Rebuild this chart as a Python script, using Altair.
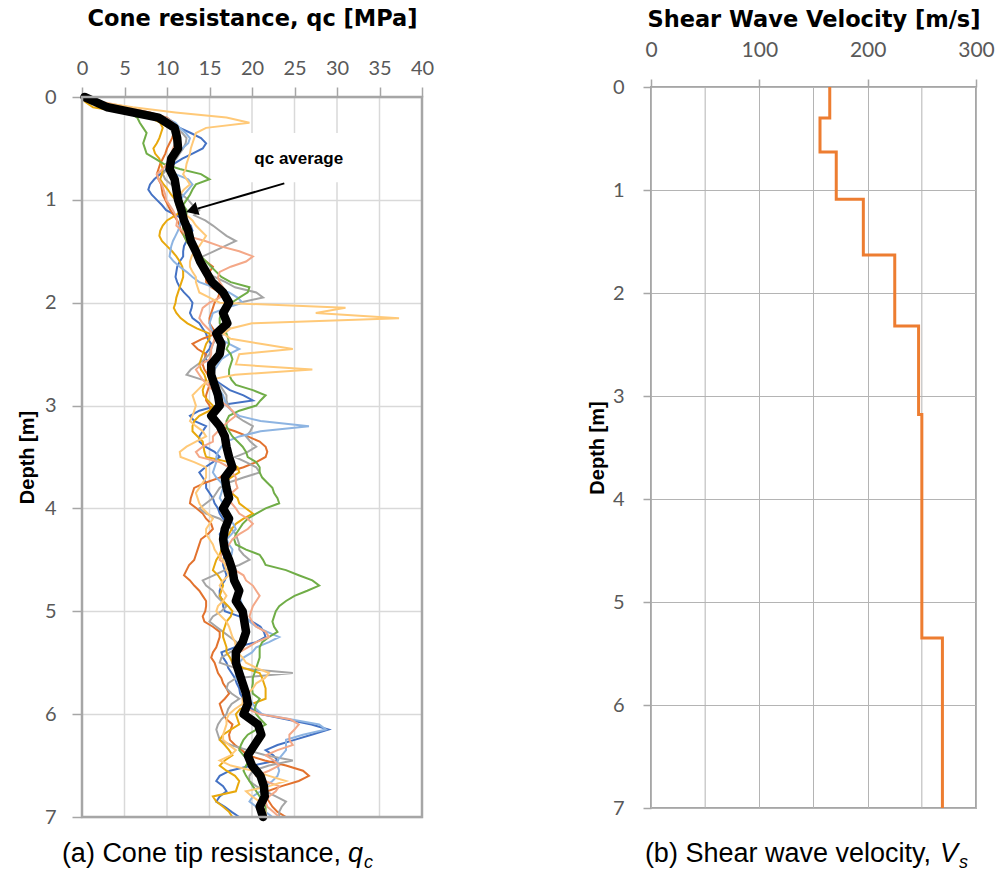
import altair as alt
import pandas as pd

# ---------------- data ----------------
# depth grid of the individual CPT traces (m), 0.05 m step
DEPTH = [round(i * 0.05, 2) for i in range(141)]

QC_BLUE = [
    0.3, 1.5, 4.0, 7.0, 9.0, 10.5, 11.5, 12.8, 14.0, 14.6,
    14.2, 13.0, 11.8, 10.8, 10.0, 9.2, 8.5, 8.0, 7.8, 8.2,
    8.8, 9.4, 9.9, 11.1, 12.0, 12.8, 13.0, 12.5, 12.3, 12.0,
    11.9, 11.9, 11.5, 11.2, 11.1, 11.0, 11.2, 11.5, 12.0, 12.6,
    13.0, 12.9, 12.7, 13.0, 13.8, 14.2, 14.6, 14.8, 15.2, 15.0,
    14.5, 14.6, 15.0, 14.8, 15.0, 15.6, 16.5, 17.4, 19.0, 20.1,
    16.0, 13.8, 12.7, 13.2, 14.6, 14.2, 13.8, 13.8, 14.5, 15.6,
    16.2, 15.4, 14.5, 13.8, 14.2, 14.6, 14.6, 15.0, 15.4, 15.6,
    16.0, 16.2, 16.6, 17.0, 16.6, 16.2, 16.4, 16.8, 17.0, 16.8,
    16.6, 16.6, 16.8, 17.0, 16.8, 16.4, 16.2, 16.2, 16.6, 16.6,
    16.8, 18.5, 20.0, 21.0, 21.4, 21.6, 20.5, 18.0, 16.4, 16.6,
    17.0, 17.2, 17.6, 18.0, 18.2, 18.5, 18.6, 19.0, 19.3, 20.0,
    21.0, 24.0, 27.0, 29.0, 27.0, 25.0, 23.0, 21.6, 22.5, 23.0,
    20.0, 17.4, 16.2, 15.8, 16.6, 17.0, 16.2, 15.8, 16.8, 17.6,
    18.5,
]
QC_ORANGE = [
    0.2, 2.0, 5.0, 8.0, 10.0, 10.8, 11.1, 10.8, 10.6, 10.3,
    10.0, 9.8, 9.5, 9.2, 9.0, 8.8, 9.0, 9.3, 9.4, 9.5,
    9.8, 10.1, 10.4, 10.8, 11.2, 11.5, 11.6, 12.0, 12.3, 12.8,
    13.4, 13.8, 14.6, 15.4, 15.0, 14.6, 14.6, 15.2, 16.2, 16.0,
    15.6, 15.4, 15.2, 15.0, 15.0, 15.4, 15.8, 14.2, 13.0, 13.6,
    14.6, 14.4, 14.2, 14.4, 14.8, 15.0, 15.0, 14.8, 14.6, 14.6,
    15.0, 15.2, 15.4, 15.8, 16.2, 18.0, 19.5, 20.9, 21.6, 21.8,
    21.6, 20.5, 19.0, 17.0, 16.2, 14.5, 13.2, 13.0, 12.8, 12.7,
    13.5, 14.2, 14.6, 15.2, 15.4, 14.8, 14.0, 13.8, 13.6, 13.4,
    13.2, 12.6, 12.3, 12.0, 12.7, 13.2, 13.8, 14.2, 14.6, 14.6,
    14.5, 14.2, 14.4, 15.4, 16.2, 16.2, 16.0, 15.8, 15.4, 15.2,
    15.6, 15.8, 16.0, 16.4, 16.6, 17.0, 17.3, 16.8, 16.2, 16.4,
    16.6, 17.0, 17.7, 17.5, 17.3, 17.4, 18.0, 18.8, 19.5, 21.5,
    24.0, 26.0, 26.7, 25.5, 23.5, 21.8, 21.6, 22.0, 22.4, 23.0,
    24.0,
]
QC_GRAY = [
    0.2, 1.8, 4.5, 7.5, 9.5, 10.6, 11.1, 11.8, 12.3, 12.2,
    11.9, 11.5, 11.1, 10.6, 10.0, 9.5, 9.8, 10.5, 11.1, 11.8,
    12.5, 13.0, 13.8, 13.2, 14.5, 15.4, 16.2, 17.0, 18.1, 16.8,
    15.5, 14.2, 13.8, 14.0, 14.6, 15.6, 16.9, 18.0, 20.5, 21.3,
    18.5, 17.0, 16.2, 16.6, 17.0, 17.4, 16.8, 15.8, 15.4, 15.2,
    15.0, 14.4, 13.6, 12.8, 12.3, 14.2, 16.2, 16.6, 17.0, 17.0,
    17.2, 17.6, 18.1, 19.0, 20.1, 19.8, 19.3, 19.8, 20.5, 19.5,
    18.0, 19.3, 20.5, 20.9, 19.0, 17.2, 16.2, 15.8, 15.4, 14.6,
    13.8, 14.6, 16.2, 17.0, 17.6, 18.1, 18.3, 18.5, 18.5, 19.0,
    19.7, 18.5, 16.8, 15.5, 14.2, 14.6, 15.4, 15.8, 16.4, 17.0,
    16.4, 15.4, 15.0, 15.8, 16.6, 17.4, 18.2, 18.5, 17.4, 16.4,
    16.2, 18.0, 24.8, 18.1, 17.2, 17.0, 17.6, 18.5, 17.6, 17.2,
    17.0, 16.4, 16.0, 15.8, 16.0, 16.2, 17.5, 19.5, 21.6, 24.8,
    22.0, 20.1, 19.7, 19.7, 20.5, 21.6, 22.8, 24.0, 23.5, 23.2,
    23.2,
]
QC_GOLD = [
    0.0, 0.4, 1.3, 5.0, 8.0, 9.2, 9.5, 9.3, 9.1, 8.8,
    8.4, 8.6, 9.1, 9.3, 9.5, 9.4, 9.2, 9.6, 10.1, 10.5,
    11.0, 11.5, 11.9, 11.0, 10.0, 9.5, 9.2, 9.1, 9.4, 10.0,
    10.6, 11.1, 11.5, 11.8, 11.9, 11.9, 11.7, 11.5, 11.3, 11.1,
    11.0, 10.8, 11.1, 11.6, 12.4, 13.5, 15.0, 15.0, 14.6, 14.4,
    14.2, 14.0, 13.8, 14.0, 14.4, 14.6, 14.4, 14.2, 14.3, 14.8,
    15.4, 15.0, 13.8, 13.2, 13.0, 13.0, 13.6, 14.2, 14.3, 14.4,
    14.6, 17.3, 18.3, 18.5, 17.5, 16.6, 17.0, 17.6, 18.3, 18.5,
    19.3, 20.1, 19.0, 18.1, 17.6, 17.3, 17.0, 16.6, 16.4, 16.2,
    15.8, 15.6, 15.4, 16.0, 16.4, 16.6, 16.4, 16.2, 16.6, 17.2,
    17.7, 17.5, 17.0, 16.8, 16.6, 16.6, 16.8, 17.0, 17.0, 17.4,
    17.7, 19.0, 20.9, 21.2, 21.4, 21.6, 21.6, 21.6, 20.0, 18.6,
    18.1, 18.3, 18.5, 17.5, 16.6, 16.2, 16.8, 17.3, 17.7, 16.8,
    16.2, 17.0, 18.0, 18.5, 18.3, 18.1, 15.4, 15.8, 16.6, 17.3,
    17.7,
]
QC_LIGHTBLUE = [
    0.2, 1.5, 4.0, 7.5, 9.8, 11.0, 11.5, 12.2, 12.7, 12.5,
    11.8, 11.2, 10.4, 9.9, 10.3, 11.0, 12.5, 13.0, 12.5, 12.0,
    11.6, 11.5, 11.9, 11.7, 11.6, 11.5, 11.3, 11.0, 10.7, 10.5,
    10.4, 10.3, 10.8, 11.5, 12.3, 13.0, 13.8, 15.5, 17.3, 18.3,
    18.9, 17.0, 15.4, 15.2, 15.0, 15.2, 15.4, 16.2, 17.3, 18.5,
    17.3, 16.4, 16.0, 15.6, 15.4, 15.6, 16.0, 16.2, 16.6, 16.8,
    17.0, 17.6, 18.5, 21.0, 26.7, 21.0, 18.5, 17.0, 16.4, 16.0,
    15.8, 15.8, 15.6, 15.4, 15.8, 16.4, 16.6, 16.4, 16.2, 16.6,
    17.0, 17.0, 17.3, 17.8, 18.1, 17.6, 17.0, 17.3, 17.7, 17.6,
    17.3, 17.3, 17.5, 17.7, 17.8, 18.0, 18.3, 18.5, 18.7, 18.9,
    19.0, 19.3, 19.7, 20.5, 21.8, 23.2, 22.0, 20.5, 20.0, 19.0,
    18.5, 18.3, 18.1, 18.1, 18.5, 18.9, 19.3, 19.7, 20.1, 20.5,
    21.2, 24.5, 27.9, 28.7, 26.0, 24.0, 24.0, 24.0, 23.5, 23.0,
    23.0, 23.2, 23.0, 22.4, 21.6, 21.0, 20.1, 19.7, 20.5, 21.6,
    22.4,
]
QC_GREEN = [
    0.3, 2.0, 4.0, 5.5, 6.5, 6.8, 7.2, 7.6, 7.4, 7.2,
    7.4, 7.6, 8.6, 9.6, 11.5, 14.0, 15.0, 13.4, 13.0, 12.7,
    12.3, 11.9, 12.3, 12.3, 12.0, 11.9, 11.9, 12.0, 12.3, 12.7,
    13.4, 14.0, 14.6, 15.2, 15.8, 16.4, 17.5, 19.7, 19.5, 18.5,
    17.6, 16.8, 16.4, 16.2, 16.2, 16.6, 17.0, 17.2, 17.3, 17.0,
    17.5, 17.7, 17.5, 17.3, 17.3, 17.6, 18.1, 20.1, 21.6, 21.0,
    20.5, 18.5, 17.3, 17.0, 17.0, 17.3, 17.7, 18.3, 18.9, 19.3,
    19.5, 20.5, 20.9, 20.9, 21.2, 21.8, 22.4, 22.6, 23.0, 23.2,
    21.6, 20.5, 19.5, 18.9, 18.5, 18.1, 17.9, 18.1, 19.3, 20.9,
    21.3, 21.6, 24.0, 25.5, 27.1, 27.9, 26.5, 25.0, 24.0, 23.2,
    22.8, 22.6, 22.4, 22.6, 23.0, 22.0, 21.2, 20.9, 20.9, 20.9,
    20.7, 20.5, 20.3, 20.1, 20.1, 20.0, 20.1, 20.9, 20.5, 20.3,
    20.5, 21.0, 21.6, 20.5, 19.5, 19.0, 18.7, 18.5, 19.0, 19.7,
    19.3, 19.0, 19.3, 19.7, 20.1, 20.5, 20.9, 21.2, 21.6, 21.6,
    20.9,
]
QC_SALMON = [
    0.3, 2.5, 5.5, 7.6, 9.8, 10.7, 11.2, 11.5, 11.4, 11.0,
    10.7, 10.5, 10.3, 10.0, 9.5, 8.8, 9.0, 9.4, 9.6, 9.8,
    9.9, 10.3, 10.7, 11.0, 11.2, 11.1, 11.8, 12.3, 14.5, 16.2,
    18.5, 20.1, 19.3, 17.5, 16.2, 16.0, 16.2, 16.6, 17.0, 16.2,
    15.0, 14.2, 14.0, 13.8, 14.2, 14.8, 15.4, 15.6, 15.4, 15.2,
    15.2, 15.0, 14.0, 13.4, 13.8, 14.2, 14.8, 15.4, 15.8, 16.2,
    17.0, 17.7, 18.1, 17.3, 16.6, 16.0, 15.4, 15.4, 14.2, 13.4,
    13.8, 16.2, 17.3, 17.7, 18.1, 18.1, 18.3, 17.6, 17.0, 17.6,
    18.1, 18.5, 19.5, 20.1, 19.5, 18.5, 17.7, 17.3, 16.8, 16.4,
    16.2, 17.0, 18.0, 19.0, 19.3, 20.1, 20.5, 20.9, 20.5, 20.1,
    19.9, 19.7, 20.0, 20.5, 21.6, 22.0, 20.5, 19.5, 18.5, 18.1,
    17.7, 17.9, 18.3, 18.5, 18.9, 19.3, 19.0, 18.9, 19.0, 19.5,
    20.9, 24.5, 25.5, 25.0, 24.4, 24.4, 24.8, 23.0, 21.6, 22.6,
    23.2, 22.0, 20.5, 21.5, 23.2, 22.8, 22.0, 21.6, 21.8, 22.5,
    23.2,
]
QC_LIGHTORANGE = [
    0.2, 2.0, 6.0, 11.0, 17.0, 19.7, 14.6, 13.4, 13.2, 13.0,
    12.8, 12.7, 12.5, 12.3, 12.2, 11.9, 12.3, 12.7, 12.0, 11.5,
    11.3, 11.1, 11.5, 12.3, 13.0, 13.4, 14.0, 14.6, 14.2, 13.8,
    13.2, 12.9, 12.7, 12.7, 13.0, 13.4, 13.4, 13.6, 13.8, 15.0,
    16.2, 31.0, 27.5, 37.3, 20.0, 17.5, 16.6, 17.5, 21.0, 24.8,
    18.5, 18.3, 18.1, 27.1, 18.0, 15.0, 14.2, 13.6, 13.0, 13.2,
    13.4, 13.2, 13.0, 12.7, 13.4, 14.2, 14.6, 13.4, 12.3, 11.5,
    11.6, 13.2, 14.6, 14.6, 14.6, 14.2, 13.8, 13.4, 13.6, 13.8,
    14.2, 14.8, 15.4, 15.0, 14.6, 14.6, 15.0, 15.4, 15.6, 16.0,
    16.6, 16.8, 17.0, 17.3, 16.6, 16.2, 16.6, 17.0, 16.6, 16.0,
    15.8, 16.4, 17.0, 17.3, 17.5, 17.7, 18.0, 18.1, 18.3, 18.9,
    19.3, 20.5, 22.0, 21.5, 20.5, 20.1, 19.5, 18.9, 18.9, 18.0,
    17.3, 17.0, 17.0, 16.8, 16.6, 16.6, 17.3, 18.1, 17.5, 16.2,
    17.5, 20.1, 22.0, 24.0, 22.0, 19.3, 20.0, 20.9, 21.2, 21.6,
    21.6,
]

TRACE_NAMES = ["CPT1", "CPT2", "CPT3", "CPT4", "CPT5", "CPT6", "CPT7", "CPT8"]
TRACE_COLORS = ["#4472C4", "#E2722E", "#A5A5A5", "#E8A80C",
                "#8DB4E2", "#70AD47", "#F4A888", "#FFC978"]
TRACES = [QC_BLUE, QC_ORANGE, QC_GRAY, QC_GOLD,
          QC_LIGHTBLUE, QC_GREEN, QC_SALMON, QC_LIGHTORANGE]

# average qc (black) at 0.1 m step
AVG_DEPTH = [round(i * 0.1, 1) for i in range(71)]
QC_AVG = [
    0.3, 3.0, 9.0, 10.9, 11.2, 11.3, 10.5, 10.3, 10.9, 11.1,
    11.3, 11.7, 12.0, 12.5, 12.8, 13.4, 13.9, 14.6, 15.3, 16.6,
    17.3, 16.6, 17.1, 15.8, 16.4, 16.2, 15.2, 15.2, 15.6, 16.0,
    16.2, 15.2, 16.2, 16.8, 17.0, 17.3, 17.7, 16.8, 17.0, 17.3,
    16.6, 17.3, 16.8, 16.6, 16.8, 17.3, 17.7, 17.9, 18.5, 18.1,
    18.9, 19.1, 19.3, 18.9, 18.1, 18.1, 18.5, 18.9, 19.3, 19.5,
    19.0, 20.7, 21.1, 20.3, 19.5, 20.0, 21.0, 21.4, 21.5, 20.9,
    21.3,
]

# shear-wave velocity layers
VS_TOP = [0.0, 0.30, 0.63, 1.09, 1.63, 2.32, 3.18, 5.35]
VS_BOT = [0.30, 0.63, 1.09, 1.63, 2.32, 3.18, 5.35, 7.0]
VS = [165, 156, 171, 196, 225, 247, 250, 269]

QC_TICKS = [0, 5, 10, 15, 20, 25, 30, 35, 40]
QC_INNER_GRID = [5, 10, 15, 20, 25, 30, 35]
VS_TICKS = [0, 100, 200, 300]
VS_MINOR_GRID = [50, 150, 250]
DEPTH_TICKS = [0, 1, 2, 3, 4, 5, 6, 7]

# annotation
ANNOT_TEXT = "qc average"
ANNOT_BOX = {"x": 18.0, "x2": 33.0, "y": 0.35, "y2": 0.83}
ANNOT_LABEL_POS = {"x": 25.5, "y": 0.60}
ARROW = {"x": 23.8, "y": 0.84, "x2": 13.6, "y2": 1.085}
ARROW_HEAD = {"x": 13.15, "y": 1.095}

# ---------------- frames ----------------
rows = []
for name, vals in zip(TRACE_NAMES, TRACES):
    for d, q in zip(DEPTH, vals):
        rows.append({"trace": name, "depth": d, "qc": q})
df_traces = pd.DataFrame(rows)
df_avg = pd.DataFrame({"depth": AVG_DEPTH, "qc": QC_AVG})

vs_rows = []
k = 0
for top, bot, v in zip(VS_TOP, VS_BOT, VS):
    vs_rows.append({"i": k, "depth": top, "vs": v}); k += 1
    vs_rows.append({"i": k, "depth": bot, "vs": v}); k += 1
df_vs = pd.DataFrame(vs_rows)

TITLE_X_FONT = "DejaVu Sans"
TITLE_Y_FONT = "Liberation Sans"
FONT_L = "Lato"
CAP_FONT = "Liberation Sans"
LABEL_COLOR = "#595959"
BORDER = "#A6A6A6"

# ---------------- left panel ----------------
# the left plot sits 10 px lower than the right one: extra 10 px on top of its y range
xq = alt.X("qc:Q", scale=alt.Scale(domain=[0, 40], nice=False, zero=False),
           axis=alt.Axis(orient="top", values=QC_TICKS, title="Cone resistance, qc [MPa]",
                         grid=False, domain=False, offset=-10, labelFlush=False,
                         tickColor=BORDER, tickSize=10, tickWidth=1.5,
                         labelFont=FONT_L, labelFontSize=20, labelColor=LABEL_COLOR,
                         labelPadding=9, titleFont=TITLE_X_FONT, titleFontSize=22.5,
                         titleFontWeight="bold", titleColor="black", titlePadding=28))
yd = alt.Y("depth:Q", scale=alt.Scale(domain=[0, 7], range=[10, 730], nice=False, zero=False),
           axis=alt.Axis(values=DEPTH_TICKS, format="d", title="Depth [m]", grid=True,
                         gridColor="#D9D9D9", gridWidth=1.5, domain=False, labelFlush=False,
                         tickColor=BORDER, tickSize=10, tickWidth=1.5,
                         labelFont=FONT_L, labelFontSize=20, labelColor=LABEL_COLOR,
                         labelPadding=16, titleFont=TITLE_Y_FONT, titleFontSize=20,
                         titleFontWeight="bold", titleColor="black", titlePadding=7))

base_l = alt.Chart(df_traces)
vgrid = alt.Chart(pd.DataFrame({"g": QC_INNER_GRID, "d0": 0.0, "d1": 7.0})).mark_rule(
    color="#D9D9D9", strokeWidth=1.5).encode(x=alt.X("g:Q"), y="d0:Q", y2="d1:Q")
traces = base_l.mark_line(strokeWidth=2, interpolate="linear").encode(
    x="qc:Q", y="depth:Q",
    color=alt.Color("trace:N", scale=alt.Scale(domain=TRACE_NAMES, range=TRACE_COLORS), legend=None),
    order=alt.Order("depth:Q"),
)
avg = alt.Chart(df_avg).mark_line(color="black", strokeWidth=8.5, strokeCap="round",
                                  strokeJoin="round").encode(
    x="qc:Q", y="depth:Q", order=alt.Order("depth:Q"))

df_box = pd.DataFrame([ANNOT_BOX])
box = alt.Chart(df_box).mark_rect(color="white").encode(x="x:Q", x2="x2:Q", y="y:Q", y2="y2:Q")
df_lab = pd.DataFrame([dict(ANNOT_LABEL_POS, t=ANNOT_TEXT)])
lab = alt.Chart(df_lab).mark_text(font="Liberation Sans", fontWeight="bold", fontSize=17,
                                  color="black").encode(x="x:Q", y="y:Q", text="t:N")
df_arrow = pd.DataFrame([ARROW])
arrow = alt.Chart(df_arrow).mark_rule(color="black", strokeWidth=2).encode(
    x="x:Q", y="y:Q", x2="x2:Q", y2="y2:Q")
df_head = pd.DataFrame([ARROW_HEAD])
head = alt.Chart(df_head).mark_point(shape="triangle", filled=True, color="black",
                                     size=190, angle=253.5, opacity=1).encode(x="x:Q", y="y:Q")
frame_l = alt.Chart(pd.DataFrame([{"x": 0, "x2": 40, "y": 0, "y2": 7}])).mark_rect(
    fillOpacity=0, stroke=BORDER, strokeWidth=2.5).encode(x="x:Q", x2="x2:Q", y="y:Q", y2="y2:Q")

cap_a_main = alt.Chart(pd.DataFrame([{"t": "(a) Cone tip resistance,"}])).mark_text(
    font=CAP_FONT, fontSize=27, align="right", baseline="alphabetic", color="black").encode(
    x=alt.value(259), y=alt.value(775), text="t:N")
cap_a_q = alt.Chart(pd.DataFrame([{"t": "q"}])).mark_text(
    font=CAP_FONT, fontSize=27, fontStyle="italic", align="left", baseline="alphabetic",
    color="black").encode(x=alt.value(266), y=alt.value(775), text="t:N")
cap_a_c = alt.Chart(pd.DataFrame([{"t": "c"}])).mark_text(
    font=CAP_FONT, fontSize=18, fontStyle="italic", align="left", baseline="alphabetic",
    color="black").encode(x=alt.value(282), y=alt.value(781), text="t:N")

left = alt.layer(vgrid, box, traces, avg, arrow, head, lab, frame_l,
                 cap_a_main, cap_a_q, cap_a_c).encode(x=xq, y=yd).properties(
    width=340, height=730,
    view=alt.ViewBackground(stroke=None))

# ---------------- right panel ----------------
xv = alt.X("vs:Q", scale=alt.Scale(domain=[0, 300], nice=False, zero=False),
           axis=alt.Axis(orient="top", values=VS_TICKS, title="Shear Wave Velocity  [m/s]",
                         grid=True, gridColor="#B4B4B4", gridWidth=1, labelFlush=False,
                         domain=False, tickColor=BORDER, tickSize=8, tickWidth=1.5,
                         labelFont=FONT_L, labelFontSize=21, labelColor=LABEL_COLOR,
                         labelPadding=19, titleFont=TITLE_X_FONT, titleFontSize=22.5,
                         titleFontWeight="bold", titleColor="black", titlePadding=8))
ydv = alt.Y("depth:Q", scale=alt.Scale(domain=[0, 7], reverse=True, nice=False, zero=False),
            axis=alt.Axis(values=DEPTH_TICKS, format="d", title="Depth [m]", grid=True,
                          gridColor="#B4B4B4", gridWidth=1, domain=False, labelFlush=False,
                          tickColor=BORDER, tickSize=8, tickWidth=1.5,
                          labelFont=FONT_L, labelFontSize=20, labelColor=LABEL_COLOR,
                          labelPadding=19, titleFont=TITLE_Y_FONT, titleFontSize=20,
                          titleFontWeight="bold", titleColor="black", titlePadding=5))

vs_line = alt.Chart(df_vs).mark_line(color="#ED7D31", strokeWidth=3).encode(
    x=xv, y=ydv, order=alt.Order("i:Q"))
minor = alt.Chart(pd.DataFrame({"g": VS_MINOR_GRID})).mark_rule(
    color="#B4B4B4", strokeWidth=1).encode(x=alt.X("g:Q", scale=alt.Scale(domain=[0, 300])))

cap_b_main = alt.Chart(pd.DataFrame([{"t": "(b) Shear wave velocity,"}])).mark_text(
    font=CAP_FONT, fontSize=27, align="right", baseline="alphabetic", color="black").encode(
    x=alt.value(280), y=alt.value(775), text="t:N")
cap_b_v = alt.Chart(pd.DataFrame([{"t": "V"}])).mark_text(
    font=CAP_FONT, fontSize=27, fontStyle="italic", align="left", baseline="alphabetic",
    color="black").encode(x=alt.value(289), y=alt.value(775), text="t:N")
cap_b_s = alt.Chart(pd.DataFrame([{"t": "s"}])).mark_text(
    font=CAP_FONT, fontSize=18, fontStyle="italic", align="left", baseline="alphabetic",
    color="black").encode(x=alt.value(308), y=alt.value(781), text="t:N")

right = alt.layer(minor, vs_line, cap_b_main, cap_b_v, cap_b_s).properties(
    width=325, height=721,
    view=alt.ViewBackground(stroke=BORDER, strokeWidth=2))

chart = alt.hconcat(left, right, spacing=152).properties(
    padding={"left": 17, "top": 7, "right": 0, "bottom": 0},
    background="white",
)

chart.save("out.html", embed_options={"renderer": "svg", "actions": False})
